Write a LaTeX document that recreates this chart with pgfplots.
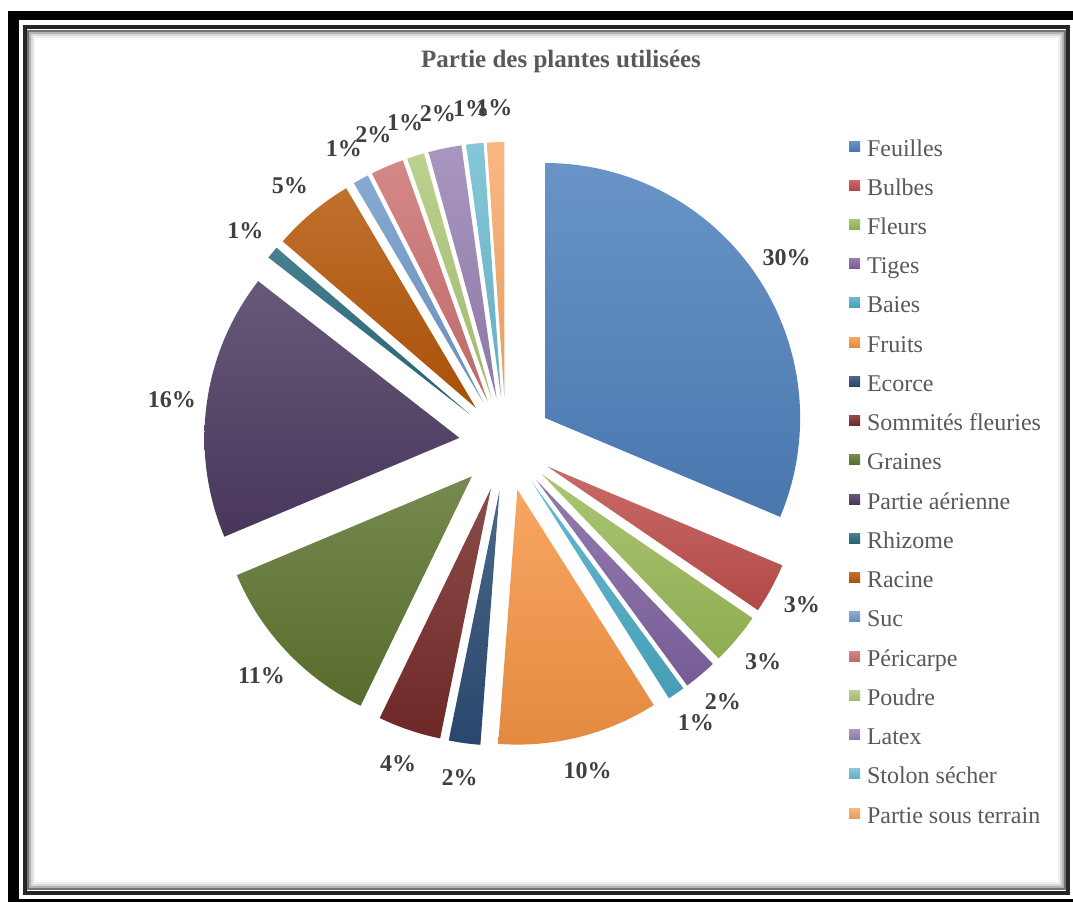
\documentclass[border=0pt]{standalone}
\usepackage{fontspec}
\setmainfont{Liberation Serif}
\usepackage{pgfplots}
\usepackage{pgfplotstable}
\pgfplotsset{compat=1.18}

\definecolor{c0}{HTML}{4F81BD}
\definecolor{c1}{HTML}{C0504D}
\definecolor{c2}{HTML}{9BBB59}
\definecolor{c3}{HTML}{8064A2}
\definecolor{c4}{HTML}{4BACC6}
\definecolor{c5}{HTML}{F79646}
\definecolor{c6}{HTML}{2C4D75}
\definecolor{c7}{HTML}{772C2A}
\definecolor{c8}{HTML}{5F7530}
\definecolor{c9}{HTML}{4D3B62}
\definecolor{c10}{HTML}{276A7C}
\definecolor{c11}{HTML}{B65708}
\definecolor{c12}{HTML}{729ACA}
\definecolor{c13}{HTML}{CD7371}
\definecolor{c14}{HTML}{AFC97A}
\definecolor{c15}{HTML}{9983B5}
\definecolor{c16}{HTML}{6FBDD1}
\definecolor{c17}{HTML}{F9AB6B}
\definecolor{labtext}{HTML}{404040}
\definecolor{legtext}{HTML}{595959}

\newcommand\lblfont{\fontsize{12}{14}\selectfont\bfseries}
\newcommand\legfont{\fontsize{12}{14}\selectfont}
\newcommand\titfont{\fontsize{12.5}{15}\selectfont\bfseries}

% share of each part (slice size) and the percentage printed beside it
\pgfplotstableread[col sep=comma]{
name,value,label
Feuilles,31.4,30
Bulbes,3.2,3
Fleurs,3.3,3
Tiges,2.1,2
Baies,1.1,1
Fruits,10.2,10
Ecorce,2.0,2
Sommités fleuries,4.0,4
Graines,11.5,11
Partie aérienne,16.9,16
Rhizome,0.8,1
Racine,5.2,5
Suc,1.0,1
Péricarpe,2.1,2
Poudre,1.1,1
Latex,2.1,2
Stolon sécher,1.1,1
Partie sous terrain,1.1,1
}\piedata

% geometry (units = pixels of the 1073x902 picture)
\newcommand\PCx{506}
\newcommand\PCy{458}
\newcommand\PR{255}
\newcommand\PD{47}
\newcommand\PL{290}

\xdef\total{0}
\foreach \i in {0,...,17}{%
  \pgfplotstablegetelem{\i}{value}\of\piedata
  \pgfmathsetmacro\tmpsum{\total+\pgfplotsretval}%
  \xdef\total{\tmpsum}%
}
\xdef\cum{0}
\foreach \i in {0,...,17}{%
  \pgfplotstablegetelem{\i}{value}\of\piedata
  \let\val\pgfplotsretval
  \pgfmathsetmacro\as{90-(\cum/\total)*360}%
  \pgfmathsetmacro\nc{\cum+\val}%
  \pgfmathsetmacro\ae{90-(\nc/\total)*360}%
  \pgfmathsetmacro\am{(\as+\ae)/2}%
  \pgfmathsetmacro\vx{\PCx+\PD*cos(\am)}%
  \pgfmathsetmacro\vy{\PCy+\PD*sin(\am)}%
  \pgfmathsetmacro\lx{\vx+\PL*cos(\am)}%
  \pgfmathsetmacro\ly{\vy+\PL*sin(\am)}%
  \expandafter\xdef\csname as\i\endcsname{\as}%
  \expandafter\xdef\csname ae\i\endcsname{\ae}%
  \expandafter\xdef\csname vx\i\endcsname{\vx}%
  \expandafter\xdef\csname vy\i\endcsname{\vy}%
  \expandafter\xdef\csname lx\i\endcsname{\lx}%
  \expandafter\xdef\csname ly\i\endcsname{\ly}%
  \pgfplotstablegetelem{\i}{label}\of\piedata
  \expandafter\xdef\csname lb\i\endcsname{\pgfplotsretval}%
  \pgfplotstablegetelem{\i}{name}\of\piedata
  \expandafter\xdef\csname nm\i\endcsname{\pgfplotsretval}%
  \xdef\cum{\nc}%
}

\begin{document}
\begin{tikzpicture}
\begin{axis}[
  x=0.5pt, y=0.5pt,
  xmin=0, xmax=1073, ymin=0, ymax=902,
  hide axis, clip=false,
  legend style={
    at={(axis cs:849,761)}, anchor=north west,
    draw=none, fill=none, inner sep=0pt, outer sep=0pt,
    row sep=9.62pt, font=\legfont, text=legtext,
    nodes={inner sep=0pt, text height=7.5pt, text depth=2.5pt},
  },
  legend cell align=left,
  legend image code/.code={%
    \fill[#1] (0pt,0pt) rectangle (5.5pt,5pt);
    \path (9pt,0pt);
  },
]
% frame
\fill[white] (axis cs:0,0) rectangle (axis cs:1073,902);
\fill[black] (axis cs:8,0) rectangle (axis cs:19,891);
\fill[black] (axis cs:8,882) rectangle (axis cs:1073,891);
\fill[black] (axis cs:8,0) rectangle (axis cs:1073,3);
\draw[black!6, line width=1pt] (axis cs:34,19) rectangle (axis cs:1059,865);
\draw[black!15, line width=1pt] (axis cs:32,17) rectangle (axis cs:1061,867);
\draw[black!30, line width=1pt] (axis cs:30,15) rectangle (axis cs:1063,869);
\draw[black!55, line width=1pt] (axis cs:28,13) rectangle (axis cs:1065,871);
\draw[black!85, line width=2pt] (axis cs:25,9) rectangle (axis cs:1068,875);

\node[font=\titfont, text=legtext, anchor=base] at (axis cs:561,834) {Partie des plantes utilisées};

\pgfplotsinvokeforeach{0,...,17}{%
  \edef\doplot{\noexpand\addplot[draw=none, top color=c#1!85!white, bottom color=c#1!92!black,
     domain=\csname ae#1\endcsname:\csname as#1\endcsname, samples=60]
     ({\csname vx#1\endcsname+\PR*cos(x)},{\csname vy#1\endcsname+\PR*sin(x)})
     -- (axis cs:\csname vx#1\endcsname,\csname vy#1\endcsname) -- cycle;}%
  \doplot
  \addlegendentry{\csname nm#1\endcsname}
  \edef\donode{\noexpand\node[font=\noexpand\lblfont, text=labtext] at (axis cs:\csname lx#1\endcsname,\csname ly#1\endcsname) {\csname lb#1\endcsname\noexpand\%};}%
  \donode
}
\end{axis}
\end{tikzpicture}
\end{document}
